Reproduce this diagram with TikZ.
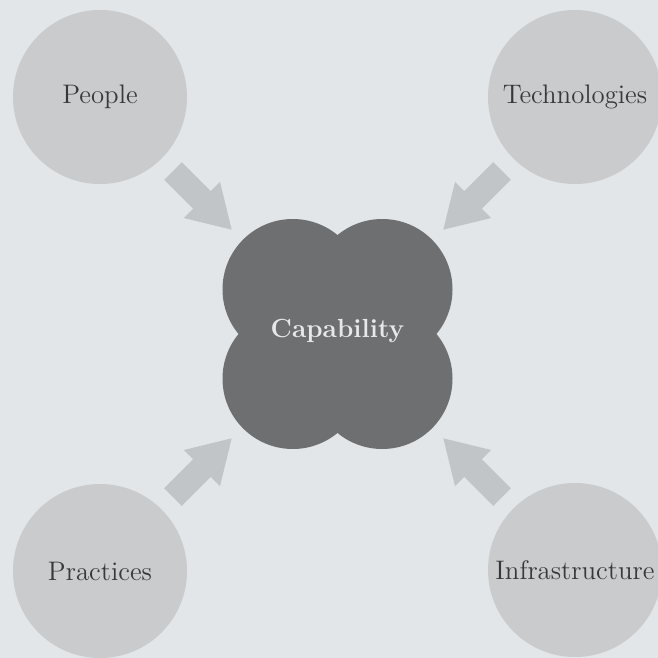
\documentclass[tikz,border=0pt]{standalone}
\usetikzlibrary{calc}
\definecolor{bgcol}{HTML}{E2E6E9}
\definecolor{outerfill}{HTML}{C9CBCD}
\definecolor{arrowfill}{HTML}{C2C5C8}
\definecolor{corefill}{HTML}{6E6F71}
\definecolor{coretext}{HTML}{E8E8E8}
\definecolor{labeltext}{HTML}{383838}
\tikzset{
  x=0.5pt, y=-0.5pt,
  outer/.style={circle, fill=outerfill, minimum size=87pt, inner sep=0pt,
    text=labeltext, font=\fontsize{13.4}{16}\selectfont},
  lobe/.style={circle, fill=corefill, minimum size=70.3pt, inner sep=0pt},
  corelabel/.style={text=coretext, font=\fontsize{13.1}{16}\selectfont\bfseries},
  blockarrow/.pic={\fill[arrowfill] (0,-12.5) -- (41,-12.5) -- (41,-25.5) -- (83,0)
      -- (41,25.5) -- (41,12.5) -- (0,12.5) -- cycle;}
}
\begin{document}
\begin{tikzpicture}
\useasboundingbox (0,0) rectangle (658,658);
\clip (0,0) rectangle (658,658);
\fill[bgcol] (0,0) rectangle (658,658);
\coordinate (C) at (337.5,334);
% outer circles
\node[outer] (people) at ($(C)+(-237.5,-237)$) {People};
\node[outer] (tech) at ($(C)+(237.5,-237)$) {Technologies};
\node[outer] (prac) at ($(C)+(-237.5,237)$) {Practices};
\node[outer] (infra) at ($(C)+(237.5,236)$) {Infrastructure};
% core shape
\node[lobe] (l1) at ($(C)+(-44.7,-44.7)$) {};
\node[lobe] (l2) at ($(C)+(44.7,-44.7)$) {};
\node[lobe] (l3) at ($(C)+(-44.7,44.7)$) {};
\node[lobe] (l4) at ($(C)+(44.7,44.7)$) {};
\node[corelabel] (cap) at ($(C)+(0,-3)$) {Capability};
% arrows
\coordinate (a1) at ($(C)+(-164.5,-163)$);
\coordinate (a2) at ($(C)+(164.5,-163)$);
\coordinate (a3) at ($(C)+(-164.5,163)$);
\coordinate (a4) at ($(C)+(164.5,163)$);
\pic[rotate=-45] at (a1) {blockarrow};
\pic[rotate=-135] at (a2) {blockarrow};
\pic[rotate=45] at (a3) {blockarrow};
\pic[rotate=135] at (a4) {blockarrow};
\end{tikzpicture}
\end{document}
